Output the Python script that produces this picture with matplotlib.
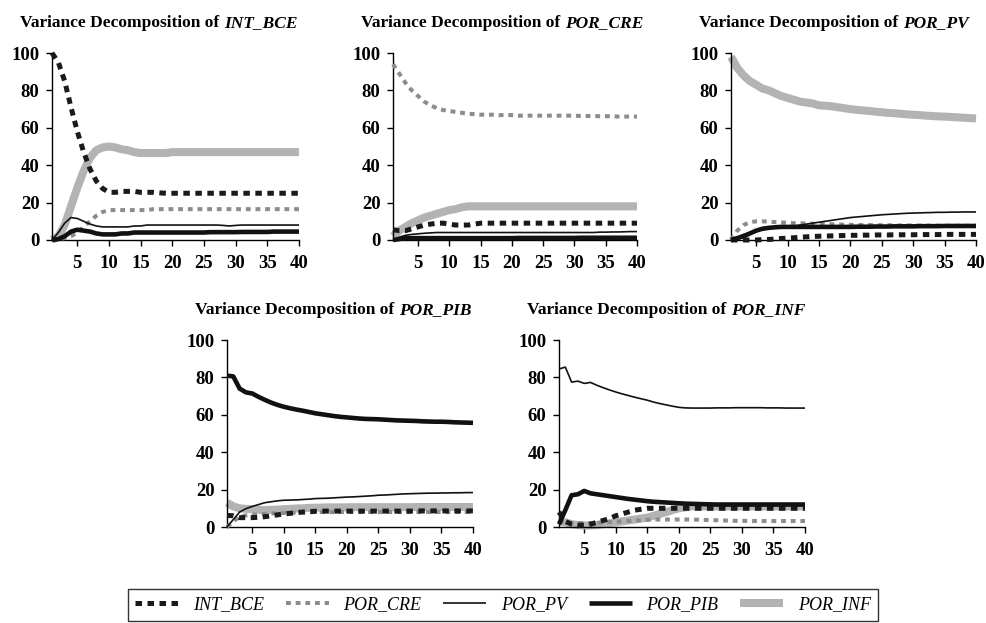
#!/usr/bin/env python3
# -*- coding: utf-8 -*-

import matplotlib
matplotlib.use('Agg')
import matplotlib.pyplot as plt

horizon = list(range(1, 41))
x_ticks = [5, 10, 15, 20, 25, 30, 35, 40]
y_ticks = [0, 20, 40, 60, 80, 100]

series_names = ['INT_BCE', 'POR_CRE', 'POR_PV', 'POR_PIB', 'POR_INF']
panel_names  = ['INT_BCE', 'POR_CRE', 'POR_PV', 'POR_PIB', 'POR_INF']

# --- Variance decomposition of INT_BCE
int_bce_1 = [100, 95, 85, 71, 58, 47, 38, 31.5, 27.5, 25.5,
             25.5, 26, 26, 26, 25.5, 25.5, 25.5, 25.2, 25, 25,
             25, 25, 25, 25, 25, 25, 25, 25, 25, 25,
             25, 25, 25, 25, 25, 25, 25, 25, 25, 25]
por_cre_1 = [0, 0.5, 1, 2, 4, 7, 10, 13, 15, 16,
             16, 16, 16, 16, 16, 16, 16.5, 16.5, 16.5, 16.5,
             16.5, 16.5, 16.5, 16.5, 16.5, 16.5, 16.5, 16.5, 16.5, 16.5,
             16.5, 16.5, 16.5, 16.5, 16.5, 16.5, 16.5, 16.5, 16.5, 16.5]
por_pv_1 = [0, 4, 9, 12, 11.5, 10, 8.5, 7.5, 7, 7,
            7, 7, 7, 7.5, 7.5, 8, 8, 8, 8, 8,
            8, 8, 8, 8, 8, 8, 8, 7.8, 7.5, 7.8,
            8, 8, 8, 8, 8, 8, 8, 8, 8, 8]
por_pib_1 = [0, 0.5, 2, 4.5, 5.5, 5, 4.5, 3.5, 3, 3,
             3, 3.5, 3.5, 4, 4, 4, 4, 4, 4, 4,
             4, 4, 4, 4, 4, 4.2, 4.2, 4.2, 4.2, 4.2,
             4.3, 4.3, 4.3, 4.3, 4.3, 4.5, 4.5, 4.5, 4.5, 4.5]
por_inf_1 = [0, 2, 8, 18, 28, 37, 44, 48, 49.5, 50,
             49.5, 48.5, 48, 47, 46.5, 46.5, 46.5, 46.5, 46.5, 47,
             47, 47, 47, 47, 47, 47, 47, 47, 47, 47,
             47, 47, 47, 47, 47, 47, 47, 47, 47, 47]

# --- Variance decomposition of POR_CRE
int_bce_2 = [5.5, 5, 5, 6, 7, 8, 8.5, 9, 9, 8.5,
             8, 8, 8, 8.5, 9, 9, 9, 9, 9, 9,
             9, 9, 9, 9, 9, 9, 9, 9, 9, 9,
             9, 9, 9, 9, 9, 9, 9, 9, 9, 9]
por_cre_2 = [94, 89, 84, 80, 77, 74, 72, 70.5, 69.5, 69,
             68.5, 68, 67.5, 67.3, 67, 67, 67, 66.8, 66.8, 66.8,
             66.5, 66.5, 66.5, 66.5, 66.5, 66.5, 66.5, 66.5, 66.5, 66.5,
             66.3, 66.3, 66.3, 66.2, 66.2, 66.2, 66, 66, 66, 66]
por_pv_2 = [0, 1.5, 2.5, 3, 3.3, 3.6, 3.8, 4, 4, 4,
            4, 4, 4, 4, 4, 4, 4, 4, 4, 4,
            4, 4, 4, 4, 4, 4, 4, 4, 4, 4,
            4, 4, 4, 4.2, 4.2, 4.3, 4.3, 4.4, 4.5, 4.5]
por_pib_2 = [0, 0.5, 1, 1, 1, 1, 1, 1, 1, 1,
             1, 1, 1, 1, 1, 1, 1, 1, 1, 1,
             1.1, 1.1, 1.1, 1.1, 1.1, 1.1, 1.1, 1.1, 1.1, 1.1,
             1.2, 1.2, 1.2, 1.2, 1.2, 1.2, 1.2, 1.2, 1.2, 1.2]
por_inf_2 = [2, 5, 7, 9, 10.5, 12, 13, 14, 15, 16,
             16.5, 17.5, 18, 18, 18, 18, 18, 18, 18, 18,
             18, 18, 18, 18, 18, 18, 18, 18, 18, 18,
             18, 18, 18, 18, 18, 18, 18, 18, 18, 18]

# --- Variance decomposition of POR_PV
int_bce_3 = [0, 0, 0, 0, 0, 0.2, 0.3, 0.5, 0.8, 1,
             1.2, 1.5, 1.7, 1.9, 2, 2.1, 2.2, 2.3, 2.4, 2.5,
             2.5, 2.6, 2.6, 2.7, 2.7, 2.7, 2.8, 2.8, 2.8, 2.8,
             2.9, 2.9, 2.9, 2.9, 3, 3, 3, 3, 3, 3]
por_cre_3 = [0, 5, 8, 9.5, 10, 10, 9.8, 9.6, 9.4, 9.2,
             9, 8.9, 8.8, 8.7, 8.6, 8.5, 8.4, 8.3, 8.2, 8.1,
             8, 8, 8, 7.9, 7.9, 7.9, 7.8, 7.8, 7.8, 7.8,
             7.7, 7.7, 7.7, 7.7, 7.6, 7.6, 7.6, 7.6, 7.6, 7.6]
por_pv_3 = [0, 1.5, 3, 4, 5, 5.5, 6, 6.5, 6.8, 7,
            7.5, 8, 8.5, 9, 9.5, 10, 10.5, 11, 11.5, 12,
            12.3, 12.6, 12.9, 13.2, 13.5, 13.7, 13.9, 14.1, 14.3, 14.4,
            14.5, 14.6, 14.7, 14.8, 14.8, 14.9, 14.9, 15, 15, 15]
por_pib_3 = [0, 1, 2, 3.5, 5, 6, 6.5, 6.8, 7, 7,
             7, 7, 7, 7, 7, 7, 7, 7, 7, 7,
             7.1, 7.1, 7.1, 7.2, 7.2, 7.2, 7.3, 7.3, 7.3, 7.3,
             7.4, 7.4, 7.4, 7.4, 7.5, 7.5, 7.5, 7.5, 7.5, 7.5]
por_inf_3 = [98, 92, 88, 85, 83, 81, 80, 78.5, 77, 76,
             75, 74, 73.5, 73, 72, 71.8, 71.5, 71, 70.5, 70,
             69.6, 69.3, 69, 68.6, 68.3, 68, 67.8, 67.5, 67.2, 67,
             66.8, 66.5, 66.3, 66.1, 66, 65.8, 65.6, 65.4, 65.2, 65]

# --- Variance decomposition of POR_PIB
int_bce_4 = [6.2, 6, 5, 5, 5, 5.2, 5.5, 6, 6.5, 7,
             7.3, 7.7, 8, 8.2, 8.4, 8.5, 8.5, 8.5, 8.5, 8.5,
             8.5, 8.5, 8.5, 8.5, 8.5, 8.5, 8.5, 8.5, 8.5, 8.5,
             8.6, 8.6, 8.6, 8.6, 8.6, 8.6, 8.6, 8.6, 8.6, 8.6]
por_cre_4 = [0, 3, 5.5, 6.2, 6.5, 6.8, 7, 7.2, 7.4, 7.5,
             7.6, 7.7, 7.8, 7.9, 8, 8, 8, 8, 8, 8,
             8, 8, 8, 8, 8, 8, 8, 8, 8, 8,
             8, 8, 8, 8, 8, 8, 8, 8, 8, 8]
por_pv_4 = [0, 4, 8, 9.8, 11, 12, 13, 13.5, 14, 14.3,
            14.4, 14.5, 14.7, 14.9, 15.2, 15.3, 15.4, 15.6, 15.8, 16,
            16.1, 16.3, 16.5, 16.7, 17, 17.1, 17.3, 17.5, 17.7, 17.8,
            17.9, 18, 18.1, 18.1, 18.2, 18.2, 18.3, 18.3, 18.4, 18.4]
por_pib_4 = [81, 80.5, 74, 72, 71.4, 69.6, 68, 66.5, 65.3, 64.3,
             63.5, 62.8, 62.2, 61.5, 60.8, 60.3, 59.8, 59.3, 58.9, 58.6,
             58.3, 58, 57.8, 57.7, 57.6, 57.4, 57.2, 57, 56.9, 56.8,
             56.7, 56.5, 56.4, 56.3, 56.3, 56.2, 56, 55.9, 55.8, 55.7]
por_inf_4 = [13, 11, 10, 9.7, 9.5, 9.2, 9, 9.2, 9.3, 9.5,
             9.7, 9.9, 10, 10.2, 10.3, 10.4, 10.5, 10.5, 10.5, 10.5,
             10.6, 10.6, 10.6, 10.6, 10.6, 10.6, 10.6, 10.6, 10.6, 10.6,
             10.7, 10.7, 10.7, 10.7, 10.7, 10.7, 10.7, 10.7, 10.7, 10.7]

# --- Variance decomposition of POR_INF
int_bce_5 = [8, 3, 1.5, 1, 1, 1.5, 2.5, 3.5, 4.5, 6,
             7, 8, 9, 9.5, 10, 10, 10, 10, 10, 10,
             10, 10, 10, 10, 10, 10, 10, 10, 10, 10,
             10, 10, 10, 10, 10, 10, 10, 10, 10, 10]
por_cre_5 = [3, 2.5, 2, 2, 2, 2, 2.2, 2.4, 2.6, 2.8,
             3, 3.2, 3.4, 3.6, 3.8, 4, 4, 4, 4, 4,
             4, 4, 3.9, 3.8, 3.7, 3.6, 3.5, 3.4, 3.3, 3.3,
             3.2, 3.2, 3.2, 3.2, 3.2, 3.2, 3.2, 3.2, 3.2, 3.2]
por_pv_5 = [84.5, 85.5, 77.5, 78, 76.8, 77.3, 75.8, 74.5, 73.3, 72.2,
            71.2, 70.3, 69.4, 68.6, 67.8, 66.8, 66, 65.3, 64.6, 64,
            63.7, 63.6, 63.6, 63.6, 63.6, 63.7, 63.7, 63.7, 63.8, 63.8,
            63.8, 63.8, 63.8, 63.7, 63.7, 63.7, 63.6, 63.6, 63.6, 63.6]
por_pib_5 = [1.5, 9, 17, 17.5, 19.3, 18, 17.5, 17, 16.5, 16,
             15.5, 15, 14.6, 14.2, 13.8, 13.5, 13.3, 13.1, 12.9, 12.7,
             12.5, 12.4, 12.3, 12.2, 12.1, 12, 12, 12, 12, 12,
             12, 12, 12, 12, 12, 12, 12, 12, 12, 12]
por_inf_5 = [3, 2.5, 1.5, 1, 0.8, 0.8, 1, 1.5, 2, 2.5,
             3, 3.5, 4, 4.5, 5, 6, 7, 8, 9, 10,
             10.5, 11, 11, 11, 11, 11, 11, 11, 11, 11,
             11, 11, 11, 11, 11, 11, 11, 11, 11, 11]

panels = [
    [int_bce_1, por_cre_1, por_pv_1, por_pib_1, por_inf_1],
    [int_bce_2, por_cre_2, por_pv_2, por_pib_2, por_inf_2],
    [int_bce_3, por_cre_3, por_pv_3, por_pib_3, por_inf_3],
    [int_bce_4, por_cre_4, por_pv_4, por_pib_4, por_inf_4],
    [int_bce_5, por_cre_5, por_pv_5, por_pib_5, por_inf_5],
]

W, H = 987, 623
SERIF = 'Liberation Serif'

# axes boxes in pixels: left, right, top (y=100), bottom (y=0)
boxes = [(52, 299, 53, 240), (393, 637, 53, 240), (731, 976, 53, 240),
         (227, 473, 340, 527), (559, 805, 340, 527)]

styles = [
    dict(color='#1a1a1a', lw=3.6, ls=(0, (1.3, 1.1)), zorder=4),
    dict(color='#8c8c8c', lw=2.9, ls=(0, (1.2, 1.2)), zorder=3),
    dict(color='#111111', lw=1.2, ls='-', zorder=5),
    dict(color='#111111', lw=3.3, ls='-', zorder=4),
    dict(color='#b3b3b3', lw=5.8, ls='-', zorder=2),
]


def add_title(fig, ax, name):
    pos = ax.get_position()
    x0 = pos.x0 - 32 / W
    y0 = pos.y1 + 26 / H
    t = fig.text(x0, y0, 'Variance Decomposition of', family=SERIF,
                 fontsize=12.5, fontweight='bold', va='baseline', ha='left')
    ax.annotate(name, xy=(1, 0), xycoords=t, xytext=(3.2, 0),
                textcoords='offset points', va='bottom', ha='left',
                family=SERIF, fontsize=12.5, fontweight='bold',
                style='italic', annotation_clip=False)


def main():
    fig = plt.figure(figsize=(W / 100, H / 100), dpi=100)

    handles = None
    for (l, r, t, b), data, name in zip(boxes, panels, panel_names):
        ax = fig.add_axes([l / W, 1 - b / H, (r - l) / W, (b - t) / H])
        lines = []
        for values, st in zip(data, styles):
            ln, = ax.plot(horizon, values, color=st['color'], lw=st['lw'],
                          ls=st['ls'], zorder=st['zorder'], clip_on=False,
                          solid_capstyle='butt')
            lines.append(ln)
        handles = lines

        ax.set_xlim(1, 40)
        ax.set_ylim(0, 100)
        ax.set_xticks(x_ticks)
        ax.set_yticks(y_ticks)
        for s in ['top', 'right']:
            ax.spines[s].set_visible(False)
        for s in ['left', 'bottom']:
            ax.spines[s].set_linewidth(1.0)
        ax.tick_params(axis='x', length=4, width=1.0, pad=7)
        ax.tick_params(axis='y', length=4, width=1.0, pad=5)
        for lab in ax.get_xticklabels() + ax.get_yticklabels():
            lab.set_family(SERIF)
            lab.set_fontweight('bold')
            lab.set_fontsize(13.5)

        add_title(fig, ax, name)

    leg = fig.legend(handles, series_names, loc='center',
                     bbox_to_anchor=(128 / W, -2 / H, 750 / W, 40 / H),
                     ncol=5, frameon=True, fancybox=False,
                     prop=dict(family=SERIF, style='italic', size=13),
                     handlelength=2.4, handletextpad=0.8, columnspacing=3.2,
                     borderaxespad=0, mode='expand')
    leg.get_frame().set_edgecolor('black')
    leg.get_frame().set_linewidth(1.0)

    fig.savefig('out.png', dpi=100)


if __name__ == '__main__':
    main()
